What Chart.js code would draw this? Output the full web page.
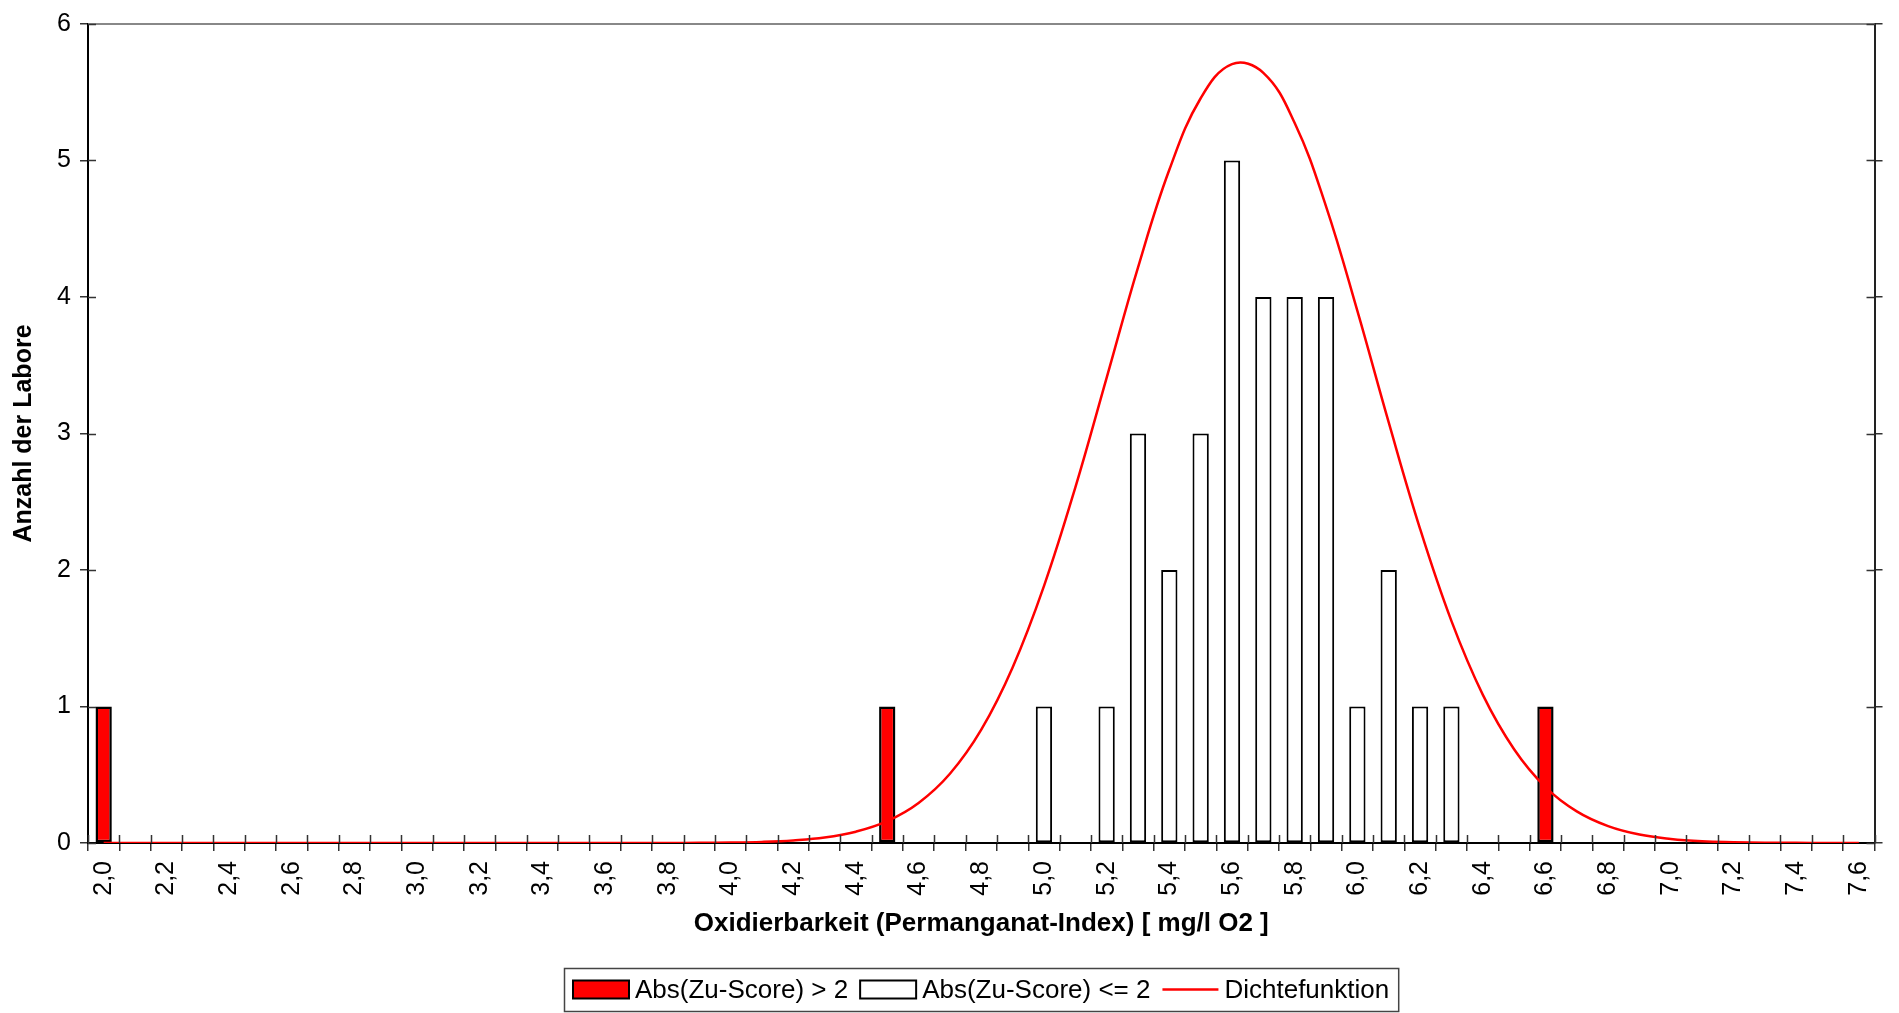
<!DOCTYPE html>
<html>
<head>
<meta charset="utf-8">
<script src="https://cdn.jsdelivr.net/npm/chart.js@4.4.0/dist/chart.umd.min.js"></script>
<style>
  html, body { margin: 0; padding: 0; background: #fff; }
  #wrap { width: 1899px; height: 1013px; }
</style>
</head>
<body>
<div id="wrap"><canvas id="histChart" width="1899" height="1013"></canvas></div>
<script>
// bins of 0,1 mg/l
const categories = [
  '2,0','2,1','2,2','2,3','2,4','2,5','2,6','2,7','2,8','2,9',
  '3,0','3,1','3,2','3,3','3,4','3,5','3,6','3,7','3,8','3,9',
  '4,0','4,1','4,2','4,3','4,4','4,5','4,6','4,7','4,8','4,9',
  '5,0','5,1','5,2','5,3','5,4','5,5','5,6','5,7','5,8','5,9',
  '6,0','6,1','6,2','6,3','6,4','6,5','6,6','6,7','6,8','6,9',
  '7,0','7,1','7,2','7,3','7,4','7,5','7,6'
];

// labs with |z| > 2
const outlierCounts = [
  1, null, null, null, null, null, null, null, null, null,
  null, null, null, null, null, null, null, null, null, null,
  null, null, null, null, null, 1, null, null, null, null,
  null, null, null, null, null, null, null, null, null, null,
  null, null, null, null, null, null, 1, null, null, null,
  null, null, null, null, null, null, null
];

// labs with |z| <= 2
const normalCounts = [
  null, null, null, null, null, null, null, null, null, null,
  null, null, null, null, null, null, null, null, null, null,
  null, null, null, null, null, null, null, null, null, null,
  1, null, 1, 3, 2, 3, 5, 4, 4, 4,
  1, 2, 1, 1, null, null, null, null, null, null,
  null, null, null, null, null, null, null
];

// density curve
const density = [
  0, 0, 0, 0, 0, 0, 0, 0, 0, 0,
  0, 0, 0, 0, 0, 0, 0, 0, 0, 0.001,
  0.003, 0.008, 0.019, 0.040, 0.083, 0.160, 0.293, 0.507, 0.830, 1.286,
  1.882, 2.604, 3.408, 4.216, 4.932, 5.456, 5.706, 5.642, 5.275, 4.664,
  3.898, 3.081, 2.302, 1.627, 1.087, 0.687, 0.410, 0.232, 0.124, 0.062,
  0.030, 0.013, 0.006, 0.002, 0.001, 0, 0
];

const seriesNames = ['Abs(Zu-Score) > 2', 'Abs(Zu-Score) <= 2', 'Dichtefunktion'];
const xTitle = 'Oxidierbarkeit (Permanganat-Index) [ mg/l O2 ]';
const yTitle = 'Anzahl der Labore';

Chart.defaults.font.family = '"Liberation Sans", Arial, sans-serif';
Chart.defaults.color = '#000';

// frame, inner tick halves and boxed legend
const frameDecor = {
  id: 'frameDecor',
  afterDraw(chart) {
    const ctx = chart.ctx;
    const a = chart.chartArea;
    const xs = chart.scales.x;
    const ys = chart.scales.y;
    ctx.save();

    ctx.strokeStyle = '#888';
    ctx.lineWidth = 2;
    ctx.beginPath();
    ctx.moveTo(a.left, a.top);
    ctx.lineTo(a.right, a.top);
    ctx.stroke();

    ctx.strokeStyle = '#333';
    ctx.lineWidth = 1.5;
    ctx.beginPath();
    for (let i = 0; i <= categories.length; i++) {
      const px = Math.round(xs.getPixelForValue(i - 0.5)) + 0.5;
      ctx.moveTo(px, a.bottom - 8);
      ctx.lineTo(px, a.bottom);
    }
    for (let v = 0; v <= 6; v++) {
      const py = Math.round(ys.getPixelForValue(v)) + 0.5;
      ctx.moveTo(a.left, py);
      ctx.lineTo(a.left + 8, py);
      ctx.moveTo(a.right - 8, py);
      ctx.lineTo(a.right, py);
    }
    ctx.stroke();

    // legend
    ctx.font = '26px "Liberation Sans", Arial, sans-serif';
    ctx.textBaseline = 'middle';
    const sw = 56, gap = 6, itemGap = 12, pad = 9;
    const widths = seriesNames.map(n => ctx.measureText(n).width);
    let total = pad * 2;
    widths.forEach((w, i) => { total += sw + gap + w + (i < widths.length - 1 ? itemGap : 0); });
    const boxTop = 968, boxH = 43;
    const cy = boxTop + boxH / 2;
    let lx = Math.round((a.left + a.right) / 2 - total / 2);
    ctx.strokeStyle = '#444';
    ctx.lineWidth = 1.5;
    ctx.strokeRect(lx + 0.5, boxTop + 0.5, total, boxH);
    lx += pad;
    seriesNames.forEach((n, i) => {
      if (i < 2) {
        ctx.fillStyle = i === 0 ? '#ff0000' : '#ffffff';
        ctx.fillRect(lx, cy - 9, sw, 18);
        ctx.strokeStyle = '#000';
        ctx.lineWidth = 2;
        ctx.strokeRect(lx, cy - 9, sw, 18);
      } else {
        ctx.strokeStyle = '#ff0000';
        ctx.lineWidth = 2.5;
        ctx.beginPath();
        ctx.moveTo(lx, cy);
        ctx.lineTo(lx + sw, cy);
        ctx.stroke();
      }
      lx += sw + gap;
      ctx.fillStyle = '#000';
      ctx.fillText(n, lx, cy + 1);
      lx += widths[i] + itemGap;
    });
    ctx.restore();
  }
};

const ctx = document.getElementById('histChart').getContext('2d');
const histChart = new Chart(ctx, {
  type: 'bar',
  data: {
    labels: categories,
    datasets: [
      {
        label: seriesNames[0],
        data: outlierCounts,
        backgroundColor: '#ff0000',
        borderColor: '#000',
        borderWidth: 2.5,
        borderSkipped: false,
        grouped: false,
        barPercentage: 0.52,
        categoryPercentage: 1.0,
        order: 1
      },
      {
        label: seriesNames[1],
        data: normalCounts,
        backgroundColor: '#ffffff',
        borderColor: '#000',
        borderWidth: 2,
        borderSkipped: false,
        grouped: false,
        barPercentage: 0.52,
        categoryPercentage: 1.0,
        order: 1
      },
      {
        type: 'line',
        label: seriesNames[2],
        data: density,
        borderColor: '#ff0000',
        borderWidth: 2.5,
        pointRadius: 0,
        fill: false,
        tension: 0.4,
        order: -1
      }
    ]
  },
  options: {
    responsive: false,
    animation: false,
    devicePixelRatio: 1,
    layout: { padding: { left: 0, top: 20, right: 0, bottom: 70 } },
    plugins: {
      legend: { display: false },
      tooltip: { enabled: false }
    },
    scales: {
      x: {
        offset: true,
        grid: { offset: true, drawOnChartArea: false, tickLength: 8, color: '#333', lineWidth: 1.5 },
        border: { color: '#000', width: 2 },
        ticks: {
          autoSkip: false,
          maxRotation: 90,
          minRotation: 90,
          padding: 10,
          font: { size: 25 },
          callback: (v, i) => (i % 2 === 0 ? categories[i] : '')
        },
        title: {
          display: true,
          text: xTitle,
          font: { size: 26, weight: 'bold' },
          padding: { top: 4, bottom: 4 }
        },
        afterFit: s => { s.height = 100; }
      },
      y: {
        min: 0,
        max: 6,
        grid: { drawOnChartArea: false, tickLength: 8, color: '#333', lineWidth: 1.5 },
        border: { color: '#000', width: 2 },
        ticks: { stepSize: 1, padding: 9, font: { size: 25 } },
        title: {
          display: true,
          text: yTitle,
          font: { size: 25, weight: 'bold' },
          padding: { top: 9, bottom: 0 }
        },
        afterFit: s => { s.width = 88; }
      },
      y2: {
        position: 'right',
        min: 0,
        max: 6,
        grid: { drawOnChartArea: false, tickLength: 8, color: '#333', lineWidth: 1.5 },
        border: { color: '#222', width: 2 },
        ticks: { stepSize: 1, display: false },
        afterFit: s => { s.width = 17; }
      }
    }
  },
  plugins: [frameDecor]
});
</script>
</body>
</html>
